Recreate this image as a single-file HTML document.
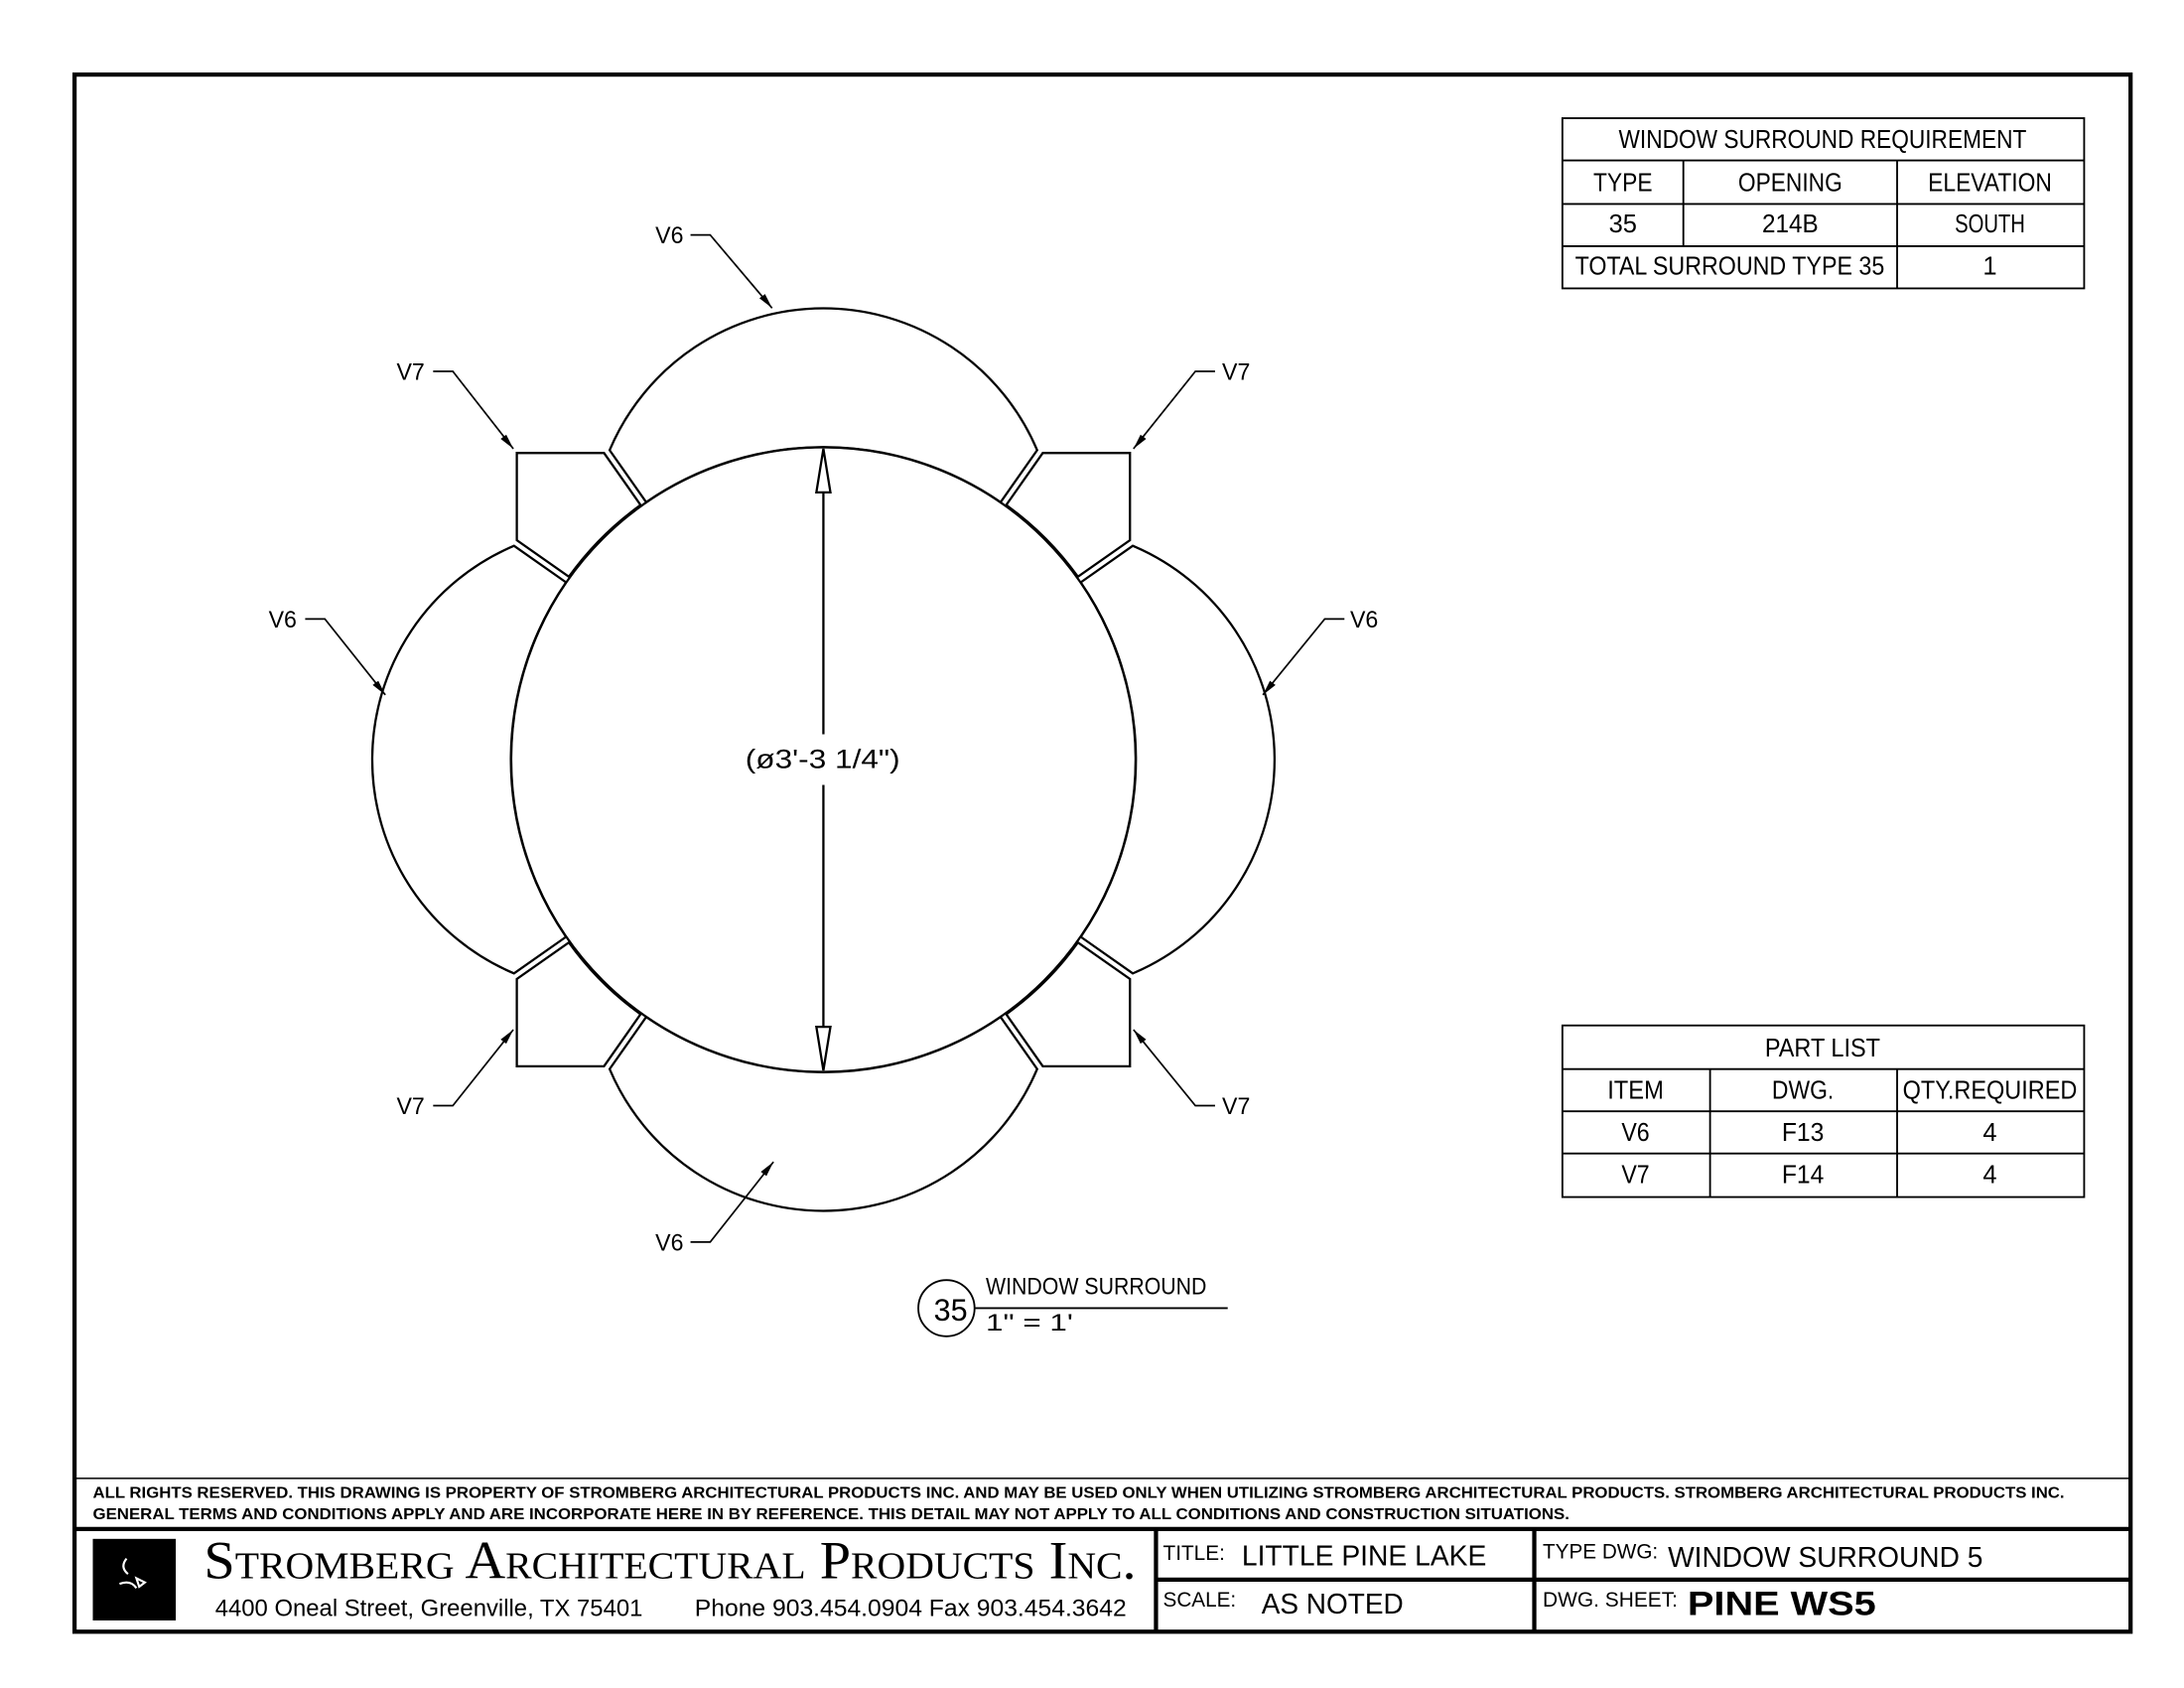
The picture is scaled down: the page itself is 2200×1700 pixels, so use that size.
<!DOCTYPE html>
<html><head><meta charset="utf-8"><style>
html,body{margin:0;padding:0;background:#fff;}
svg{display:block;}
text{font-family:"Liberation Sans",sans-serif;fill:#000;}
</style></head><body>
<svg width="2200" height="1700" viewBox="0 0 1553 1200" xmlns="http://www.w3.org/2000/svg">
<rect x="0" y="0" width="1553" height="1200" fill="#fff"/>
<rect x="53" y="53" width="1462" height="1107" fill="none" stroke="#000" stroke-width="3"/>

<g transform="translate(585.5,540)" fill="none" stroke="#000" stroke-width="1.6" stroke-linejoin="miter">
  <circle cx="0" cy="0" r="222"/>
  <g id="q">
    <path d="M -152,-220 A 165 165 0 0 1 152,-220 L 126,-183 A 222 222 0 0 0 -126,-183 Z"/>
    <path d="M -218,-218 L -156,-218 L -130,-181 A 222 222 0 0 0 -181,-130 L -218,-156 Z"/>
  </g>
  <use href="#q" transform="rotate(90)"/>
  <use href="#q" transform="rotate(180)"/>
  <use href="#q" transform="rotate(270)"/>
  <line x1="0" y1="-190" x2="0" y2="-18"/>
  <line x1="0" y1="18" x2="0" y2="190"/>
  <path d="M 0,-221 L -5,-190 L 5,-190 Z" fill="#fff"/>
  <path d="M 0,221 L -5,190 L 5,190 Z" fill="#fff"/>
</g>
<text x="585" y="546" font-size="19" text-anchor="middle" textLength="110" lengthAdjust="spacingAndGlyphs">(ø3'-3 1/4")</text>

<g stroke="#000" stroke-width="1.2" fill="none">
  <polyline points="491,167 505,167 549,219"/>
  <polyline points="308,264 322,264 365,319"/>
  <polyline points="864,264 850,264 806,319"/>
  <polyline points="217,440 231,440 274,494"/>
  <polyline points="956,440 942,440 898,494"/>
  <polyline points="308,786 322,786 365,732"/>
  <polyline points="864,786 850,786 806,732"/>
  <polyline points="491,883 505,883 550,826"/>
</g>
<g fill="#000">
  <path d="M549,219 l-9,-7 l4,-3 z"/>
  <path d="M365,319 l-9,-7 l4,-3 z"/>
  <path d="M806,319 l9,-7 l-4,-3 z"/>
  <path d="M274,494 l-9,-7 l4,-3 z"/>
  <path d="M898,494 l9,-7 l-4,-3 z"/>
  <path d="M365,732 l-9,7 l4,3 z"/>
  <path d="M806,732 l9,7 l-4,3 z"/>
  <path d="M550,826 l-9,7 l4,3 z"/>
</g>
<g font-size="17">
  <text x="476" y="173" text-anchor="middle" textLength="20" lengthAdjust="spacingAndGlyphs">V6</text>
  <text x="292" y="270" text-anchor="middle" textLength="20" lengthAdjust="spacingAndGlyphs">V7</text>
  <text x="879" y="270" text-anchor="middle" textLength="20" lengthAdjust="spacingAndGlyphs">V7</text>
  <text x="201" y="446" text-anchor="middle" textLength="20" lengthAdjust="spacingAndGlyphs">V6</text>
  <text x="970" y="446" text-anchor="middle" textLength="20" lengthAdjust="spacingAndGlyphs">V6</text>
  <text x="292" y="792" text-anchor="middle" textLength="20" lengthAdjust="spacingAndGlyphs">V7</text>
  <text x="879" y="792" text-anchor="middle" textLength="20" lengthAdjust="spacingAndGlyphs">V7</text>
  <text x="476" y="889" text-anchor="middle" textLength="20" lengthAdjust="spacingAndGlyphs">V6</text>
</g>

<circle cx="673" cy="930" r="20" fill="none" stroke="#000" stroke-width="1.3"/>
<text x="676" y="939" font-size="22" text-anchor="middle" textLength="24" lengthAdjust="spacingAndGlyphs">35</text>
<line x1="693" y1="930" x2="873" y2="930" stroke="#000" stroke-width="1.3"/>
<text x="701" y="920" font-size="17" textLength="157" lengthAdjust="spacingAndGlyphs">WINDOW SURROUND</text>
<text x="701" y="946" font-size="17" textLength="62" lengthAdjust="spacingAndGlyphs">1" = 1'</text>

<g stroke="#000" stroke-width="1.3" fill="none">
  <rect x="1111" y="84" width="371" height="121"/>
  <line x1="1111" y1="114" x2="1482" y2="114"/>
  <line x1="1111" y1="145" x2="1482" y2="145"/>
  <line x1="1111" y1="175" x2="1482" y2="175"/>
  <line x1="1197" y1="114" x2="1197" y2="175"/>
  <line x1="1349" y1="114" x2="1349" y2="205"/>
</g>
<g font-size="18" text-anchor="middle">
  <text x="1296" y="105" textLength="290" lengthAdjust="spacingAndGlyphs">WINDOW SURROUND REQUIREMENT</text>
  <text x="1154" y="136" textLength="42" lengthAdjust="spacingAndGlyphs">TYPE</text>
  <text x="1273" y="136" textLength="74" lengthAdjust="spacingAndGlyphs">OPENING</text>
  <text x="1415" y="136" textLength="88" lengthAdjust="spacingAndGlyphs">ELEVATION</text>
  <text x="1154" y="165" textLength="20" lengthAdjust="spacingAndGlyphs">35</text>
  <text x="1273" y="165" textLength="40" lengthAdjust="spacingAndGlyphs">214B</text>
  <text x="1415" y="165" textLength="50" lengthAdjust="spacingAndGlyphs">SOUTH</text>
  <text x="1230" y="195" textLength="220" lengthAdjust="spacingAndGlyphs">TOTAL SURROUND TYPE 35</text>
  <text x="1415" y="195">1</text>
</g>

<g stroke="#000" stroke-width="1.3" fill="none">
  <rect x="1111" y="729" width="371" height="122"/>
  <line x1="1111" y1="760" x2="1482" y2="760"/>
  <line x1="1111" y1="790" x2="1482" y2="790"/>
  <line x1="1111" y1="820" x2="1482" y2="820"/>
  <line x1="1216" y1="760" x2="1216" y2="851"/>
  <line x1="1349" y1="760" x2="1349" y2="851"/>
</g>
<g font-size="18" text-anchor="middle">
  <text x="1296" y="751" textLength="82" lengthAdjust="spacingAndGlyphs">PART LIST</text>
  <text x="1163" y="781" textLength="40" lengthAdjust="spacingAndGlyphs">ITEM</text>
  <text x="1282" y="781" textLength="44" lengthAdjust="spacingAndGlyphs">DWG.</text>
  <text x="1415" y="781" textLength="124" lengthAdjust="spacingAndGlyphs">QTY.REQUIRED</text>
  <text x="1163" y="811" textLength="20" lengthAdjust="spacingAndGlyphs">V6</text>
  <text x="1282" y="811" textLength="30" lengthAdjust="spacingAndGlyphs">F13</text>
  <text x="1415" y="811">4</text>
  <text x="1163" y="841" textLength="20" lengthAdjust="spacingAndGlyphs">V7</text>
  <text x="1282" y="841" textLength="30" lengthAdjust="spacingAndGlyphs">F14</text>
  <text x="1415" y="841">4</text>
</g>

<line x1="53" y1="1051" x2="1515" y2="1051" stroke="#000" stroke-width="1"/>
<text x="66" y="1065" font-size="11" font-weight="bold" textLength="1402" lengthAdjust="spacingAndGlyphs">ALL RIGHTS RESERVED. THIS DRAWING IS PROPERTY OF STROMBERG ARCHITECTURAL PRODUCTS INC. AND MAY BE USED ONLY WHEN UTILIZING STROMBERG ARCHITECTURAL PRODUCTS.  STROMBERG ARCHITECTURAL PRODUCTS INC.</text>
<text x="66" y="1080" font-size="11" font-weight="bold" textLength="1050" lengthAdjust="spacingAndGlyphs">GENERAL TERMS AND CONDITIONS APPLY AND ARE INCORPORATE HERE IN BY REFERENCE.  THIS DETAIL MAY NOT APPLY TO ALL CONDITIONS AND CONSTRUCTION SITUATIONS.</text>
<line x1="53" y1="1087" x2="1515" y2="1087" stroke="#000" stroke-width="3"/>
<line x1="822" y1="1087" x2="822" y2="1160" stroke="#000" stroke-width="3"/>
<line x1="1091" y1="1087" x2="1091" y2="1160" stroke="#000" stroke-width="3"/>
<line x1="822" y1="1123" x2="1515" y2="1123" stroke="#000" stroke-width="3"/>
<rect x="66" y="1094" width="59" height="58" fill="#000"/>
<path d="M90,1108 q-5,6 1,11 M85,1126 q8,-3 12,3 M97,1122 l6,3 l-4,3 z" stroke="#fff" stroke-width="1.5" fill="none"/>
<text x="145" y="1122" style="font-family:'Liberation Serif',serif;font-variant:small-caps;" font-size="38" textLength="663" lengthAdjust="spacingAndGlyphs">Stromberg Architectural Products Inc.</text>
<text x="153" y="1149" font-size="17" textLength="304" lengthAdjust="spacingAndGlyphs">4400 Oneal Street, Greenville, TX  75401</text>
<text x="494" y="1149" font-size="17" textLength="307" lengthAdjust="spacingAndGlyphs">Phone 903.454.0904   Fax 903.454.3642</text>
<text x="827" y="1109" font-size="15" textLength="44" lengthAdjust="spacingAndGlyphs">TITLE:</text>
<text x="883" y="1113" font-size="20" textLength="174" lengthAdjust="spacingAndGlyphs">LITTLE PINE LAKE</text>
<text x="827" y="1142" font-size="15" textLength="52" lengthAdjust="spacingAndGlyphs">SCALE:</text>
<text x="897" y="1147" font-size="20" textLength="101" lengthAdjust="spacingAndGlyphs">AS NOTED</text>
<text x="1097" y="1108" font-size="15" textLength="82" lengthAdjust="spacingAndGlyphs">TYPE DWG:</text>
<text x="1186" y="1114" font-size="20" textLength="224" lengthAdjust="spacingAndGlyphs">WINDOW SURROUND 5</text>
<text x="1097" y="1142" font-size="15" textLength="96" lengthAdjust="spacingAndGlyphs">DWG. SHEET:</text>
<text x="1200" y="1148" font-size="24" font-weight="bold" textLength="134" lengthAdjust="spacingAndGlyphs">PINE WS5</text>
</svg>
</body></html>
